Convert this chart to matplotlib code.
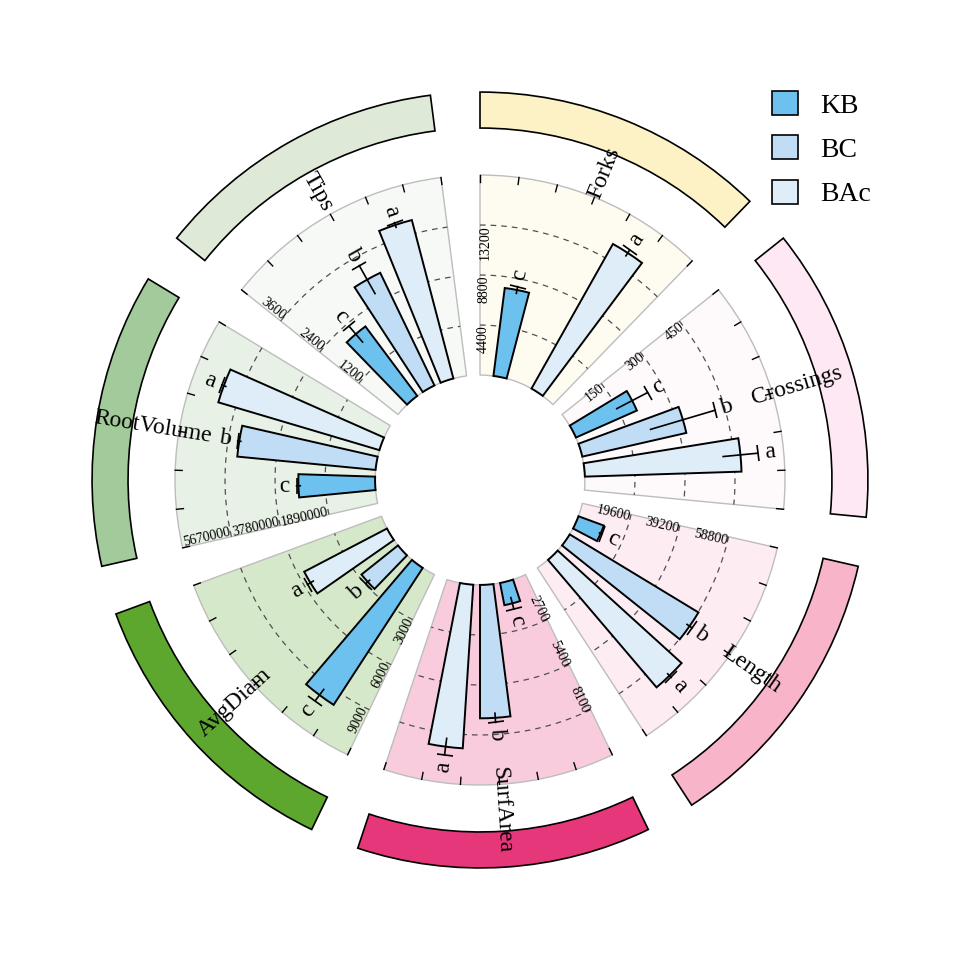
import numpy as np
import matplotlib
matplotlib.use("Agg")
import matplotlib.pyplot as plt
from matplotlib.markers import MarkerStyle
from matplotlib.patches import Patch
from matplotlib.transforms import Affine2D
from matplotlib.colors import to_rgba

plt.rcParams['font.family'] = ['Liberation Serif', 'DejaVu Serif']

# ---- data ----
groups = ['Forks', 'Crossings', 'Length', 'SurfArea', 'AvgDiam', 'RootVolume', 'Tips']
tick_step = [4400, 150, 19600, 2700, 3000, 1890000, 1200]

treatments = ['KB', 'BC', 'BAc']
kb_mean = [7800, 200, 10600, 1220, 9800, 2900000, 2080]
kb_err = [300, 52, 500, 320, 420, 70000, 250]
bc_mean = [np.nan, 320, 59000, 7200, 2800, 5250000, 3000]
bc_err = [np.nan, 101, 1200, 250, 150, 60000, 385]
bac_mean = [14600, 470, 65600, 8850, 5600, 6350000, 3930]
bac_err = [300, 52, 1000, 450, 200, 80000, 60]
kb_letter = ['c', 'c', 'c', 'c', 'c', 'c', 'c']
bc_letter = ['', 'b', 'b', 'b', 'b', 'b', 'b']
bac_letter = ['a', 'a', 'a', 'a', 'a', 'a', 'a']

bar_colors = ['#6DC1EE', '#C0DDF5', '#DEEDF8']
band_colors = ['#FDF2C6', '#FDE8F3', '#F8B4C8', '#E6377A', '#5EA72F', '#A2CA9A', '#DFE9D8']

# ---- layout (radial units: 1.0 = outer edge of the sectors) ----
R0 = 0.344          # inner hole
BAND_IN, BAND_OUT = 1.154, 1.272
LABEL_R = 1.085
U = 2 * np.pi / 49  # 7 units per group: 6 for the sector, 1 for the gap


def radial_rotation(theta):
    """Rotation (deg) for text pointing along the radius, kept upright."""
    phi = (90 - np.degrees(theta) + 180) % 360 - 180
    if phi > 90:
        return phi - 180
    if phi < -90:
        return phi + 180
    return phi


def to_r(value, step):
    return R0 + value / (4 * step) * (1 - R0)


fig = plt.figure(figsize=(9.6, 9.6), dpi=100)
ax = fig.add_axes([0.087, 0.087, 0.826, 0.826], projection='polar')
ax.set_theta_zero_location('N')
ax.set_theta_direction(-1)
ax.set_ylim(0, 1.3)
ax.set_axis_off()

means = [kb_mean, bc_mean, bac_mean]
errs = [kb_err, bc_err, bac_err]
letters = [kb_letter, bc_letter, bac_letter]

for i, name in enumerate(groups):
    start = 7 * U * i
    mid = start + 3 * U
    step = tick_step[i]

    # sector background and outer band
    ax.bar(mid, 1 - R0, width=6 * U, bottom=R0,
           facecolor=to_rgba(band_colors[i], 0.25), edgecolor='#BDBDBD', lw=1, zorder=1)
    ax.bar(mid, BAND_OUT - BAND_IN, width=6 * U, bottom=BAND_IN,
           facecolor=band_colors[i], edgecolor='black', lw=1.2, zorder=1)

    # dashed grid + tick labels along the first edge
    arc = np.linspace(start, start + 6 * U, 120)
    for k in (1, 2, 3):
        rg = to_r(k * step, step)
        ax.plot(arc, np.full_like(arc, rg), color='#505050', lw=0.9,
                ls=(0, (4.5, 4)), zorder=2)
        ax.text(start + 0.02, rg, f'{k * step}', fontsize=10,
                rotation=radial_rotation(start), rotation_mode='anchor',
                ha='right', va='center', zorder=5)

    # small ticks on the outer arc
    for k in range(7):
        th = start + k * U
        ax.plot([th, th], [1 - 0.023, 1], color='black', lw=1, zorder=3)

    # group label
    ax.text(mid, LABEL_R, name, fontsize=17, rotation=radial_rotation(mid),
            rotation_mode='anchor', ha='center', va='center', zorder=6)

    # bars, error bars, letters
    for j in range(3):
        v = means[j][i]
        if np.isnan(v):
            continue
        e = errs[j][i]
        th = start + 1.5 * U * (j + 1)
        top = to_r(v, step)
        ax.bar(th, top - R0, width=U, bottom=R0, facecolor=bar_colors[j],
               edgecolor='black', lw=1.4, zorder=4)
        lo, hi = to_r(v - e, step), to_r(v + e, step)
        ax.plot([th, th], [lo, hi], color='black', lw=1.2, zorder=5)
        phi = 90 - np.degrees(th)
        cap = MarkerStyle('|', transform=Affine2D().rotate_deg(phi))
        ax.plot([th], [hi], marker=cap, ms=12, mew=1.2, color='black', zorder=5)
        ax.text(th, hi + 0.04, letters[j][i], fontsize=17,
                rotation=radial_rotation(th), rotation_mode='anchor',
                ha='center', va='center', zorder=6)

handles = [Patch(facecolor=c, edgecolor='black', lw=1.2) for c in bar_colors]
fig.legend(handles, treatments, loc='upper left', bbox_to_anchor=(0.804, 0.905),
           frameon=False, fontsize=20, handlelength=0.95, handleheight=0.95,
           handletextpad=0.8, labelspacing=0.6, borderpad=0, borderaxespad=0)

fig.savefig('out.png', dpi=100)
